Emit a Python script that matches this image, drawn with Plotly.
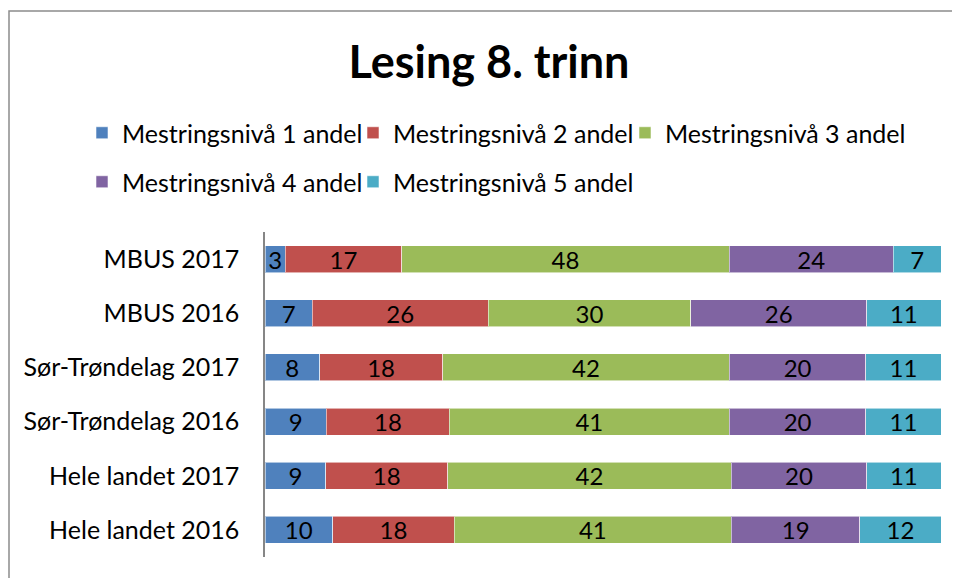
import plotly.graph_objects as go

categories = ["MBUS 2017", "MBUS 2016", "Sør-Trøndelag 2017", "Sør-Trøndelag 2016",
              "Hele landet 2017", "Hele landet 2016"]
series_names = ["Mestringsnivå 1 andel", "Mestringsnivå 2 andel", "Mestringsnivå 3 andel",
                "Mestringsnivå 4 andel", "Mestringsnivå 5 andel"]
niva1 = [3, 7, 8, 9, 9, 10]
niva2 = [17, 26, 18, 18, 18, 18]
niva3 = [48, 30, 42, 41, 42, 41]
niva4 = [24, 26, 20, 20, 20, 19]
niva5 = [7, 11, 11, 11, 11, 12]
series_values = [niva1, niva2, niva3, niva4, niva5]
colors = ["#4F81BD", "#C0504D", "#9BBB59", "#8064A2", "#4BACC6"]

FONT = "Lato"
# page body has an 8px margin; figure sized to fill the rest of the window
W, H = 952, 570
L, R, T, B = 257, 19, 224, 21
pw, ph = W - L - R, H - T - B

def px_x(p):
    return (p - L) / pw

def px_y(p):
    return (H - B - p) / ph

# legend entry positions (figure px): left x, row centre y
legend_pos = [(74, 125), (345, 125), (617, 125), (74, 174), (345, 174)]

fig = go.Figure()
legend_layout = {}
for i, (name, vals, col) in enumerate(zip(series_names, series_values, colors)):
    lname = "legend" if i == 0 else f"legend{i + 1}"
    fig.add_trace(go.Bar(
        y=categories, x=vals, name=name, orientation="h",
        marker=dict(color=col, line=dict(color="rgba(255,255,255,0.55)", width=1)),
        text=vals, texttemplate="%{text}", textposition="inside",
        insidetextanchor="middle", constraintext="none", textangle=0,
        textfont=dict(family=FONT, size=24, color="black"),
        legend=lname, showlegend=True,
        hoverinfo="skip",
    ))
    lx, ly = legend_pos[i]
    legend_layout[lname] = dict(orientation="h", x=px_x(lx), y=px_y(ly),
                                xanchor="left", yanchor="middle",
                                font=dict(family=FONT, size=25),
                                bgcolor="rgba(0,0,0,0)",
                                itemclick=False, itemdoubleclick=False)

fig.update_layout(
    width=W, height=H,
    margin=dict(l=L, r=R, t=T, b=B),
    showlegend=True,
    barmode="stack", barnorm="percent", bargap=0.5,
    plot_bgcolor="white", paper_bgcolor="white",
    font=dict(family=FONT, size=25, color="black"),
    title=dict(text="<b>Lesing 8. trinn</b>", x=481 / W, xref="container", xanchor="center",
               y=1 - 54 / H, yref="container", yanchor="middle",
               font=dict(family=FONT, size=45, color="black")),
    xaxis=dict(range=[0, 100], showticklabels=False, showgrid=False, zeroline=False,
               showline=False, fixedrange=True),
    yaxis=dict(categoryorder="array", categoryarray=categories, autorange="reversed",
               showline=True, linecolor="#868686", linewidth=1.5, ticks="",
               showgrid=False, ticklabelstandoff=19,
               tickfont=dict(family=FONT, size=25, color="black"), fixedrange=True),
    shapes=[dict(type="rect", xref="paper", yref="paper",
                 x0=px_x(1), x1=px_x(956), y0=px_y(576), y1=px_y(3),
                 line=dict(color="#8c8c8c", width=1.5), fillcolor="rgba(0,0,0,0)",
                 layer="below")],
    **legend_layout,
)

fig.write_html("out.html")
